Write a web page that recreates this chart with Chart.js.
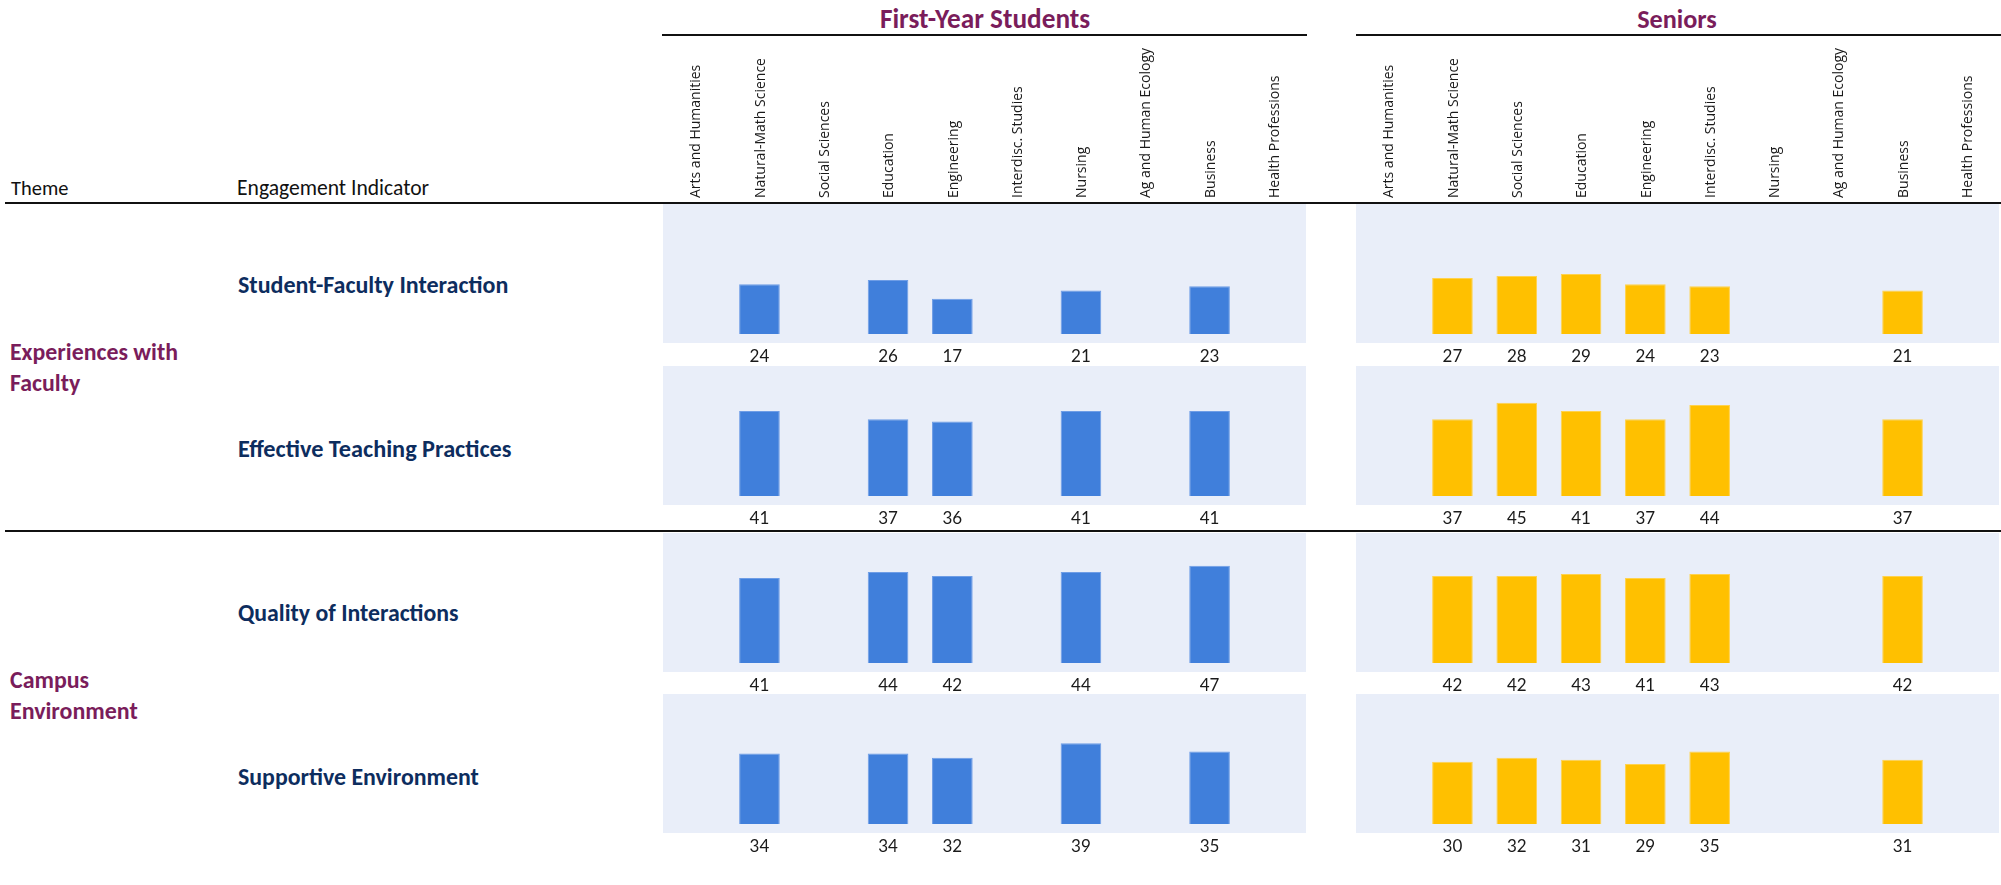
<!DOCTYPE html>
<html>
<head>
<meta charset="utf-8">
<script src="https://cdn.jsdelivr.net/npm/chart.js@4.4.0/dist/chart.umd.min.js"></script>
<style>
  body { margin: 0; width: 2001px; height: 885px; position: relative; overflow: hidden; background: #fff;
         font-family: Calibri, Carlito, Lato, sans-serif; }
  .t { position: absolute; white-space: nowrap; line-height: 1; transform: translateY(-50%); }
  .c { transform: translate(-50%, -50%); }
  .rule { position: absolute; background: #111; }
  .purple { color: #7a1d5b; font-weight: bold; }
  .navy { color: #0d2d5e; font-weight: bold; }
  canvas { position: absolute; }
</style>
</head>
<body>

<!-- header texts (data-w = width of the text in the reference, font size is fitted to it) -->
<div class="t" data-w="58" style="left:11px;top:188px;font-size:18px;color:#111">Theme</div>
<div class="t" data-w="192" style="left:237px;top:188px;font-size:18px;color:#111">Engagement Indicator</div>
<div class="t c purple" data-w="210" style="left:985px;top:19px;font-size:20px">First-Year Students</div>
<div class="t c purple" data-w="80" style="left:1677px;top:19px;font-size:20px">Seniors</div>

<div class="rule" style="left:662px;top:34px;width:645px;height:2px"></div>
<div class="rule" style="left:1356px;top:34px;width:645px;height:2px"></div>
<div class="rule" style="left:5px;top:202px;width:1996px;height:2px"></div>
<div class="rule" style="left:5px;top:530px;width:1996px;height:2px"></div>

<!-- themes -->
<div class="t purple" data-w="168" style="left:10px;top:367px;font-size:20px;line-height:31px">Experiences with<br>Faculty</div>
<div class="t purple" data-w="128" style="left:10px;top:695px;font-size:20px;line-height:31px">Campus<br>Environment</div>

<!-- engagement indicators -->
<div class="t navy" data-w="271" style="left:238px;top:285px;font-size:21px">Student-Faculty Interaction</div>
<div class="t navy" data-w="274" style="left:238px;top:449px;font-size:21px">Effective Teaching Practices</div>
<div class="t navy" data-w="221" style="left:238px;top:613px;font-size:21px">Quality of Interactions</div>
<div class="t navy" data-w="241" style="left:238px;top:777px;font-size:21px">Supportive Environment</div>

<script>
// majors (x categories)
const categories = ['Arts and Humanities', 'Natural-Math Science', 'Social Sciences', 'Education',
  'Engineering', 'Interdisc. Studies', 'Nursing', 'Ag and Human Ecology', 'Business', 'Health Professions'];

// First-Year Students, one array per engagement indicator
const fyStudentFaculty   = [null, 24, null, 26, 17, null, 21, null, 23, null];
const fyEffectiveTeach   = [null, 41, null, 37, 36, null, 41, null, 41, null];
const fyQualityInteract  = [null, 41, null, 44, 42, null, 44, null, 47, null];
const fySupportiveEnv    = [null, 34, null, 34, 32, null, 39, null, 35, null];

// Seniors
const srStudentFaculty   = [null, 27, 28, 29, 24, 23, null, null, 21, null];
const srEffectiveTeach   = [null, 37, 45, 41, 37, 44, null, null, 37, null];
const srQualityInteract  = [null, 42, 42, 43, 41, 43, null, null, 42, null];
const srSupportiveEnv    = [null, 30, 32, 31, 29, 35, null, null, 31, null];

const fyRows = [fyStudentFaculty, fyEffectiveTeach, fyQualityInteract, fySupportiveEnv];
const srRows = [srStudentFaculty, srEffectiveTeach, srQualityInteract, srSupportiveEnv];

// fit the html labels to the widths measured on the reference
document.querySelectorAll('[data-w]').forEach(el => {
  const fs = parseFloat(getComputedStyle(el).fontSize);
  el.style.fontSize = (fs * el.dataset.w / el.offsetWidth).toFixed(2) + 'px';
});

// layout
const panelW = 643;
const rowTops = [204, 366, 533, 694];
const areaH = 139;   // shaded plot area
const valueH = 26;   // value labels under the plot
const catH = 160;    // rotated major names above the first row

Chart.defaults.font.family = 'Lato, sans-serif';

// light blue panel behind the bars
const panelBg = {
  id: 'panelBg',
  beforeDraw(chart) {
    const a = chart.chartArea, ctx = chart.ctx;
    ctx.save();
    ctx.fillStyle = '#e9eef9';
    ctx.fillRect(a.left, a.top, a.right - a.left, a.bottom - a.top);
    ctx.restore();
  }
};

function addChart(left, top, values, fill, edge, showCats) {
  const cv = document.createElement('canvas');
  const extra = showCats ? catH : 0;
  cv.width = panelW;
  cv.height = extra + areaH + valueH;
  cv.style.left = left + 'px';
  cv.style.top = (top - extra) + 'px';
  document.body.appendChild(cv);

  const scales = {
    x: {
      position: 'bottom',
      grid: { display: false, drawTicks: false },
      border: { display: false },
      ticks: {
        autoSkip: false, maxRotation: 0, padding: 3,
        color: '#1a1a1a', font: { family: 'Lato, sans-serif', size: 17 },
        callback: (v, i) => values[i] == null ? '' : String(values[i])
      },
      afterFit: s => { s.height = valueH; }
    },
    y: { display: false, min: -4.4, max: 62.8 }
  };
  if (showCats) {
    scales.cat = {
      axis: 'x', type: 'category', labels: categories, position: 'top', offset: true,
      grid: { display: false, drawTicks: false },
      border: { display: false },
      ticks: {
        autoSkip: false, minRotation: 90, maxRotation: 90, padding: 6, labelOffset: 18,
        color: '#1a1a1a', font: { family: 'Open Sans', size: 14 }
      },
      afterFit: s => { s.height = catH; }
    };
  }

  new Chart(cv, {
    type: 'bar',
    data: {
      labels: categories,
      datasets: [{
        data: values, xAxisID: 'x',
        backgroundColor: fill, borderColor: edge, borderWidth: 1,
        barPercentage: 0.632, categoryPercentage: 1
      }]
    },
    options: {
      responsive: false,
      animation: false,
      events: [],
      layout: { padding: 0 },
      plugins: { legend: { display: false }, tooltip: { enabled: false } },
      scales: scales
    },
    plugins: [panelBg]
  });
}

fyRows.forEach((vals, r) => addChart(663, rowTops[r], vals, '#407fdb', '#6e9de6', r === 0));
srRows.forEach((vals, r) => addChart(1356, rowTops[r], vals, '#ffc000', '#ffd24d', r === 0));
</script>
</body>
</html>
